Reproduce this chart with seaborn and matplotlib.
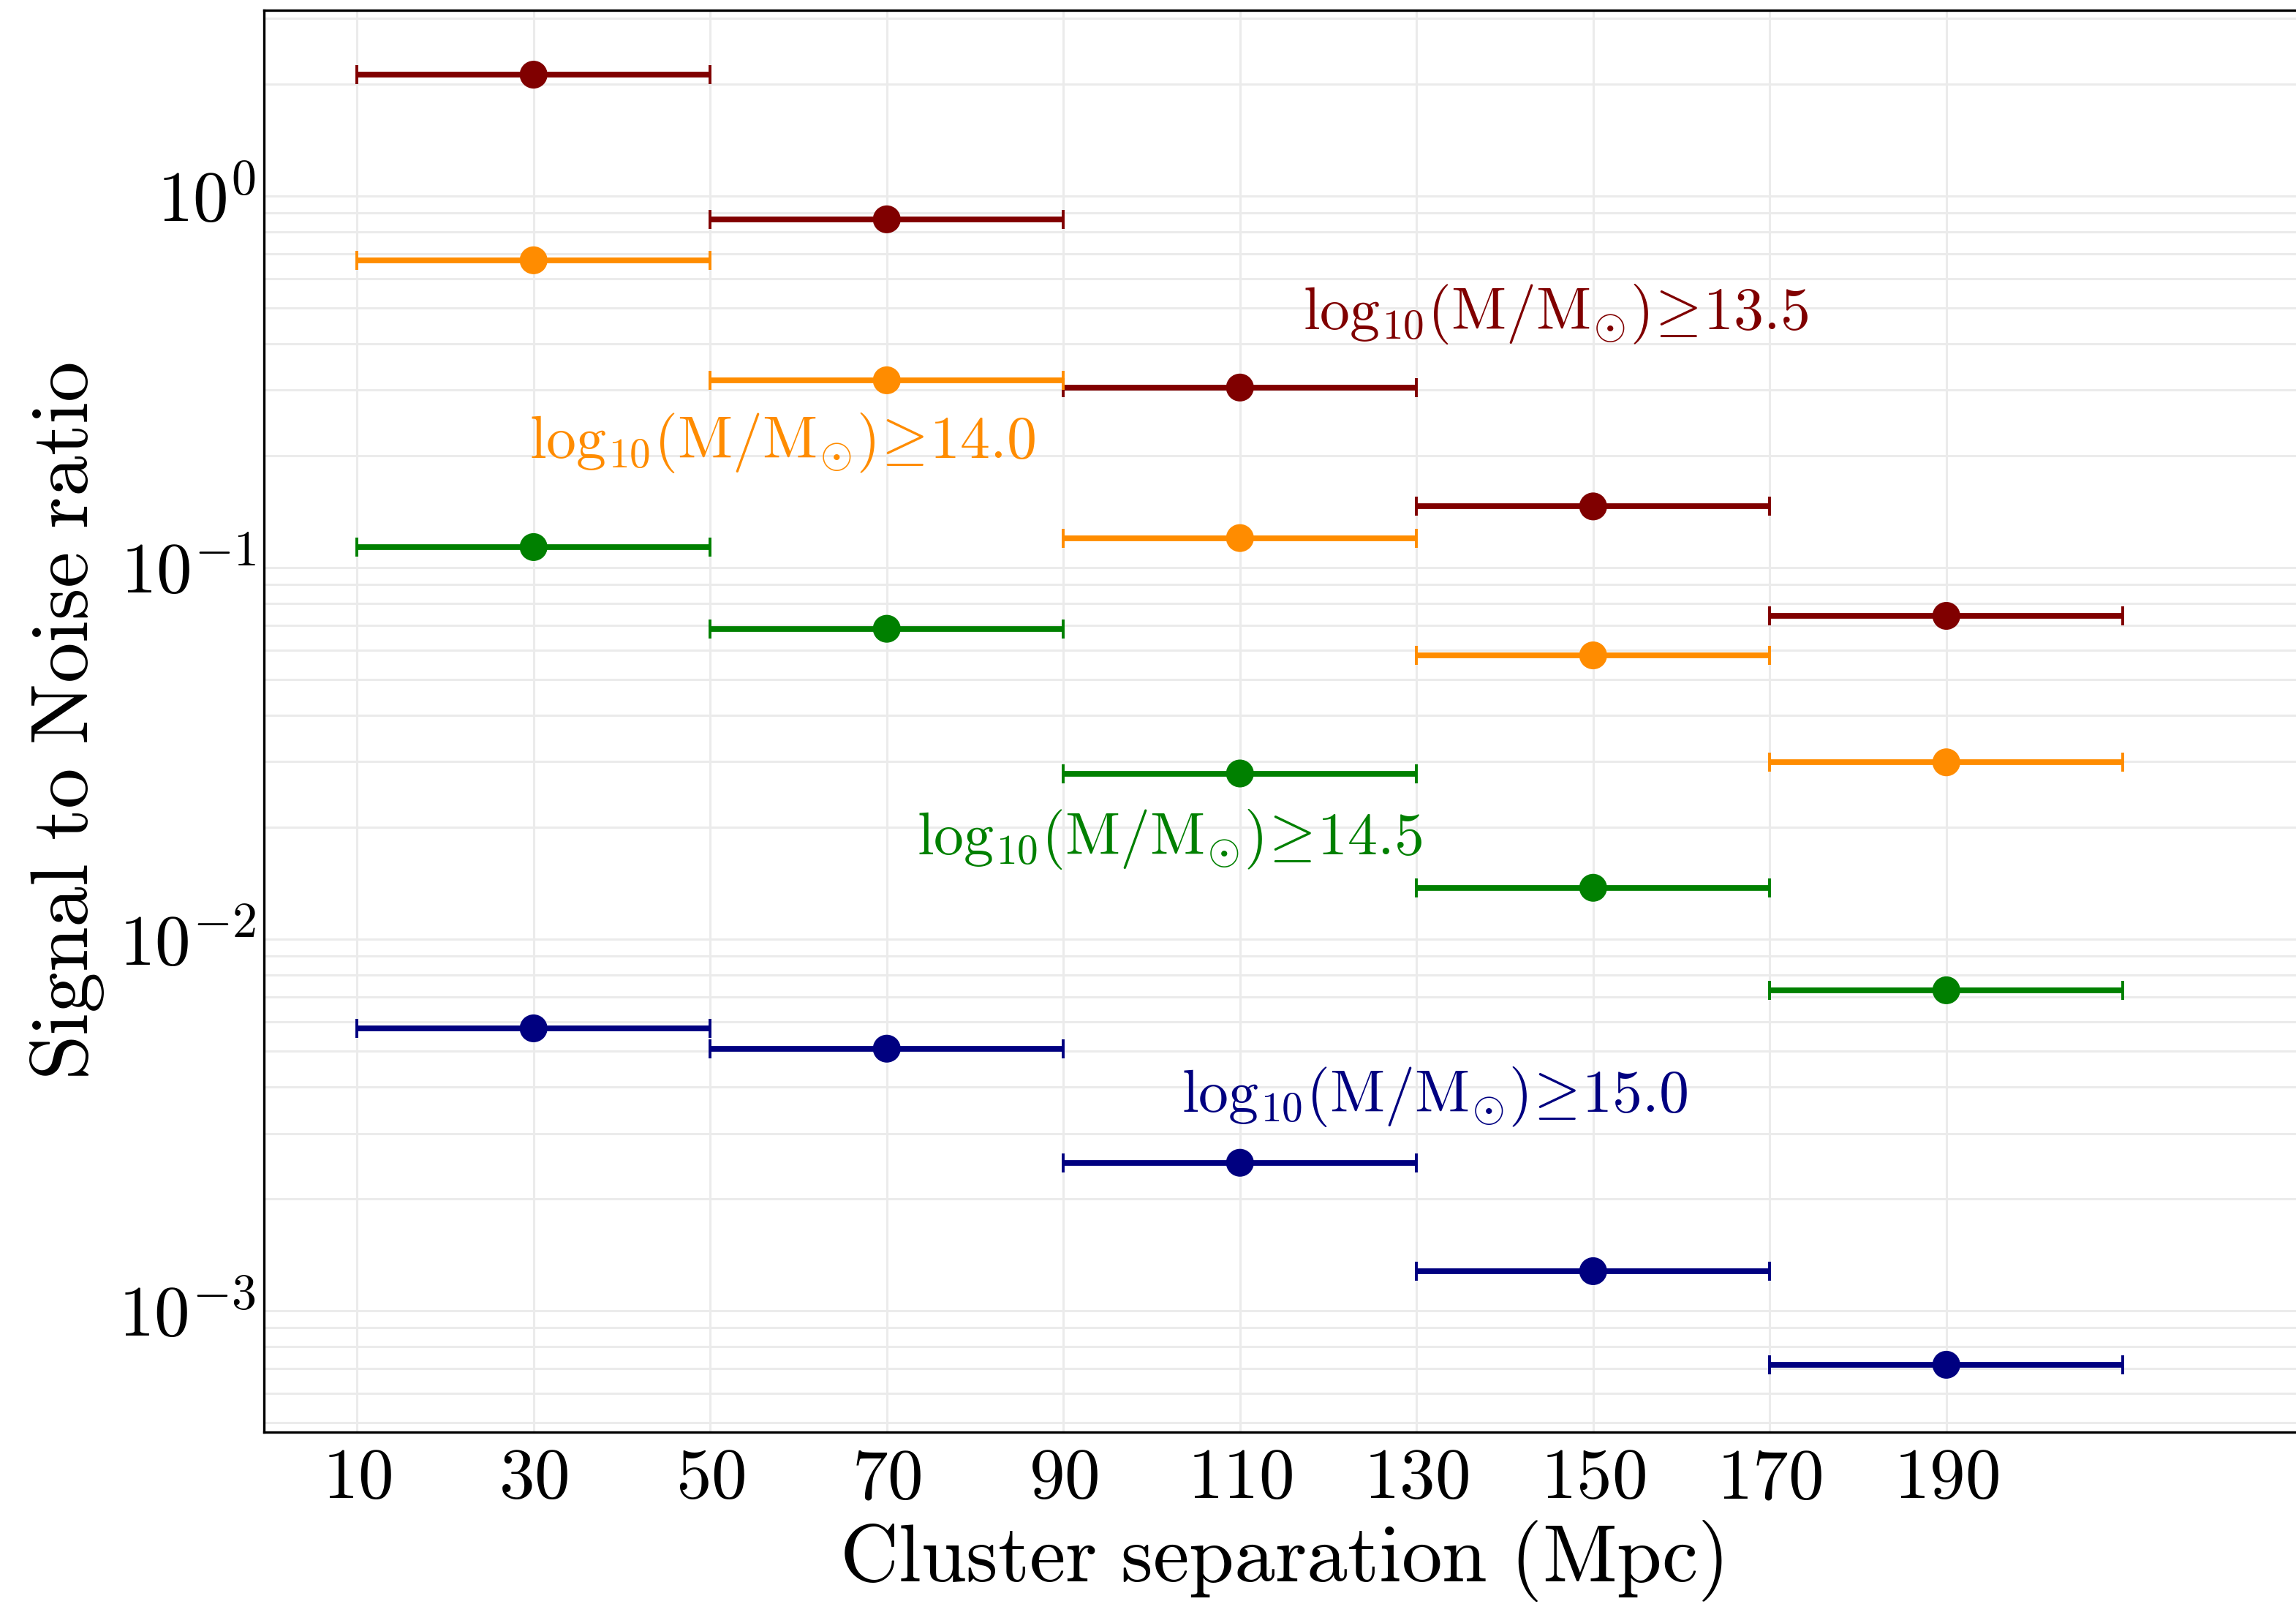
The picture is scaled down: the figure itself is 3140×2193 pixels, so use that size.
import numpy as np
import pandas as pd
import matplotlib
matplotlib.use("Agg")
import matplotlib.pyplot as plt
import seaborn as sns
from matplotlib.ticker import LogLocator, NullFormatter, FixedLocator, FixedFormatter

# ---------------- data ----------------
separation = [30, 70, 110, 150, 190]
bin_halfwidth = [20, 20, 20, 20, 20]
snr_m135 = [2.12, 0.865, 0.305, 0.146, 0.0741]
snr_m140 = [0.671, 0.319, 0.120, 0.058, 0.0299]
snr_m145 = [0.1135, 0.0684, 0.0279, 0.01374, 0.00728]
snr_m150 = [0.00575, 0.00507, 0.0025, 0.001277, 0.000715]
mass_cuts = ["13.5", "14.0", "14.5", "15.0"]
series_colors = ["#800000", "#ff8c00", "#008000", "#000080"]
label_x = [117.1, 29.5, 73.4, 103.4]
label_y = [0.4377, 0.197, 0.0169, 0.00343]
x_ticks = [10, 30, 50, 70, 90, 110, 130, 150, 170, 190]
x_tick_labels = [rf"${v}$" for v in x_ticks]
y_ticks = [1e-3, 1e-2, 1e-1, 1.0]
y_tick_labels = [r"$10^{-3}$", r"$10^{-2}$", r"$10^{-1}$", r"$10^{0}$"]

series = [snr_m135, snr_m140, snr_m145, snr_m150]
df = pd.DataFrame({
    "sep": np.tile(separation, 4),
    "xerr": np.tile(bin_halfwidth, 4),
    "snr": np.concatenate(series),
    "mass": np.repeat(mass_cuts, len(separation)),
})

# ---------------- style ----------------
sns.set_theme(style="white")
plt.rcParams.update({
    "mathtext.fontset": "cm",
    "font.family": ["serif"],
    "font.serif": ["cmr10", "DejaVu Serif"],
    "axes.unicode_minus": False,
    "text.color": "black",
    "axes.labelcolor": "black",
    "xtick.color": "black",
    "ytick.color": "black",
    "xtick.labelcolor": "black",
    "ytick.labelcolor": "black",
})

W, H = 3140, 2193
DPI = 200
fig = plt.figure(figsize=(W / DPI, H / DPI), dpi=DPI)
left_px, right_px, top_px, bot_px = 360.7, 3171.4, 14.0, 1958.0
ax = fig.add_axes([left_px / W, 1 - bot_px / H, (right_px - left_px) / W, (bot_px - top_px) / H])

pal = dict(zip(mass_cuts, series_colors))
for m, c in zip(mass_cuts, series_colors):
    sub = df[df["mass"] == m]
    ax.errorbar(sub["sep"], sub["snr"], xerr=sub["xerr"], fmt="none", ecolor=c,
                elinewidth=2.8, capsize=4.7, capthick=1.4, zorder=3)
sns.scatterplot(data=df, x="sep", y="snr", hue="mass", palette=pal, s=13.7**2,
                edgecolor="none", linewidth=0, legend=False, ax=ax, zorder=4)

ax.set_yscale("log")
ax.set_xlim(-0.56, 232.2)
ax.set_ylim(4.71e-4, 3.16)

ax.xaxis.set_major_locator(FixedLocator(x_ticks))
ax.xaxis.set_major_formatter(FixedFormatter(x_tick_labels))
ax.yaxis.set_major_locator(FixedLocator(y_ticks))
ax.yaxis.set_major_formatter(FixedFormatter(y_tick_labels))
ax.yaxis.set_minor_locator(LogLocator(base=10, subs=np.arange(2, 10), numticks=20))
ax.yaxis.set_minor_formatter(NullFormatter())

ax.tick_params(axis="both", which="major", direction="in", length=12.6, width=3.0,
               labelsize=35, pad=6, color="black", labelcolor="black")
ax.tick_params(axis="y", which="minor", direction="in", length=9.6, width=1.1, color="black")
ax.tick_params(axis="y", which="major", pad=4)
ax.tick_params(axis="x", which="major", pad=8)

ax.grid(True, which="major", axis="both", color="#ebebeb", linewidth=1.1, zorder=0)
ax.grid(True, which="minor", axis="y", color="#ebebeb", linewidth=1.1, zorder=0)
ax.set_axisbelow(True)

for s in ax.spines.values():
    s.set_color("black")
    s.set_linewidth(1.2)
ax.spines["right"].set_visible(False)

ax.set_xlabel(r"$\mathrm{Cluster\ separation\ (Mpc)}$", fontsize=40, labelpad=3, color="black")
ax.xaxis.label.set_x(0.495)
ax.set_ylabel(r"$\mathrm{Signal\ to\ Noise\ ratio}$", fontsize=40, labelpad=6, color="black")

for m, c, lx, ly in zip(mass_cuts, series_colors, label_x, label_y):
    ax.text(lx, ly,
            rf"$\mathrm{{log}}_{{10}}(\mathrm{{M}}/\mathrm{{M}}_{{\odot}})\!\geq\!{m}$",
            color=c, fontsize=29.5, ha="left", va="baseline", zorder=5)

fig.savefig("out.png", dpi=DPI, facecolor="white")
